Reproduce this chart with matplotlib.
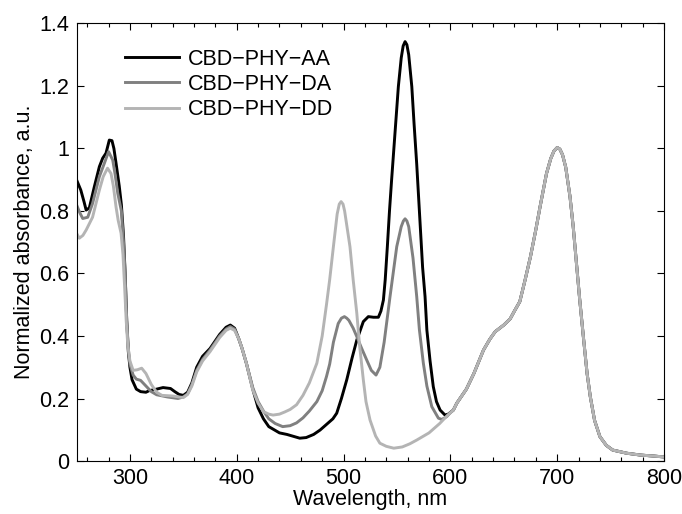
import numpy as np
import matplotlib
matplotlib.use("Agg")
import matplotlib.pyplot as plt
from matplotlib.ticker import MultipleLocator, FuncFormatter

# ---- data (wavelength nm, normalized absorbance) ----
tail = [(602.8,0.163),(606,0.185),(615,0.23),(622,0.28),(631,0.355),(637,0.39),(642,0.414),
        (650,0.435),(656,0.455),(660,0.48),(665,0.51),(670,0.58),(675,0.654),(680,0.74),
        (684,0.814),(690,0.92),(694,0.968),(697,0.992),(700,1.003),(702.5,0.998),(705,0.98),
        (708,0.94),(712,0.846),(715,0.75),(718,0.633),(721,0.52),(724.5,0.398),(728,0.28),
        (731,0.206),(735,0.13),(740,0.078),(746,0.05),(752,0.035),(765,0.025),(778,0.019),
        (790,0.016),(800,0.013)]

aa = [(250,0.90),(254,0.867),(257,0.83),(259,0.803),(262,0.81),(266.7,0.878),(271.4,0.942),
      (274.5,0.969),(277.6,0.985),(280.7,1.027),(283.2,1.025),(285,1.0),(287,0.953),(290,0.88),
      (292,0.82),(294,0.72),(295.5,0.60),(297,0.45),(298.5,0.35),(300,0.30),(302,0.26),(306,0.23),
      (310,0.222),(315,0.22),(318,0.225),(325,0.23),(331,0.235),(338,0.232),(342,0.222),(346,0.213),
      (350,0.21),(354,0.22),(358,0.25),(362.5,0.30),(368,0.335),(375,0.36),(380,0.385),(384,0.405),
      (390,0.428),(394,0.435),(398,0.425),(402,0.39),(405,0.36),(409,0.313),(415,0.23),(420,0.17),
      (425,0.135),(430,0.11),(435,0.10),(440,0.09),(447,0.085),(452,0.08),(459,0.073),(465,0.075),
      (472,0.085),(478,0.099),(485,0.12),(490,0.135),(493.6,0.153),(498,0.20),(503,0.26),(508,0.33),
      (512.4,0.387),(518.5,0.446),(523.2,0.462),(528,0.46),(532.6,0.46),(535,0.48),(537.3,0.515),
      (539,0.58),(541,0.686),(543,0.80),(545,0.90),(548,1.04),(551.3,1.198),(554,1.29),
      (555.8,1.328),(557.6,1.342),(559.3,1.332),(561,1.30),(563.9,1.198),(566,1.08),(568.5,0.95),
      (571,0.80),(574,0.62),(576.3,0.526),(578,0.419),(581,0.32),(584,0.238),(587,0.19),
      (590.4,0.163),(595,0.147),(598,0.15)]

da = [(250,0.82),(253,0.795),(255.8,0.776),(260.5,0.78),(265,0.824),(271.4,0.91),(276,0.952),
      (280,0.99),(283.9,0.963),(286,0.92),(288.6,0.857),(292,0.80),(294,0.70),(295.5,0.60),
      (297,0.45),(298.5,0.36),(300,0.31),(303,0.275),(306,0.262),(310,0.258),(315,0.24),(320,0.222),
      (325,0.212),(335,0.205),(345,0.20),(350,0.205),(354,0.215),(358,0.245),(362.5,0.29),
      (368,0.325),(375,0.355),(380,0.38),(384,0.40),(390,0.422),(394,0.43),(398,0.422),(402,0.39),
      (405,0.36),(409,0.313),(415,0.235),(420,0.19),(425,0.16),(430,0.135),(436,0.12),(443,0.11),
      (450,0.113),(456,0.122),(462,0.138),(468,0.16),(475,0.19),(480,0.225),(484,0.27),(487,0.31),
      (490.5,0.38),(495,0.44),(498,0.457),(500.8,0.462),(503,0.457),(505,0.45),(509,0.425),
      (512.4,0.398),(517,0.36),(521.7,0.323),(526,0.29),(530.4,0.275),(534,0.30),(538,0.38),
      (543.5,0.526),(549.8,0.686),(554,0.75),(556,0.768),(557.6,0.775),(559.3,0.768),(561,0.75),
      (565,0.65),(568.5,0.526),(571,0.42),(574.7,0.313),(578,0.24),(582.6,0.174),(588.8,0.137),
      (592,0.133),(596.6,0.142),(600,0.155)]

dd = [(250,0.729),(252.6,0.713),(256,0.722),(259,0.739),(265,0.78),(271.4,0.867),(275,0.91),
      (279,0.937),(282.3,0.92),(284.5,0.88),(287,0.813),(289,0.77),(291.7,0.729),(293.5,0.66),
      (295,0.56),(296.5,0.45),(298,0.37),(300,0.32),(303,0.29),(307,0.292),(311,0.297),(315,0.28),
      (320,0.245),(325,0.22),(330,0.21),(340,0.208),(350,0.203),(354,0.213),(358,0.24),
      (362.5,0.285),(368,0.32),(375,0.35),(380,0.375),(384,0.395),(390,0.418),(394,0.425),
      (398,0.418),(402,0.39),(405,0.36),(409,0.313),(415,0.227),(420,0.185),(425,0.158),(430,0.15),
      (434,0.147),(440,0.15),(445,0.157),(450,0.165),(456,0.18),(462,0.21),(468,0.25),(475,0.313),
      (480,0.40),(484,0.50),(487,0.58),(490.5,0.686),(494,0.79),(496,0.822),(497.7,0.83),
      (499.5,0.822),(501,0.80),(506,0.686),(509,0.58),(512.4,0.473),(515,0.37),(518.5,0.26),
      (521,0.19),(524.8,0.131),(530,0.08),(534,0.057),(540,0.047),(547,0.041),(555,0.045),
      (562,0.055),(568.5,0.067),(580,0.09),(590,0.12),(597,0.145)]

labels = ["CBD\u2212PHY\u2212AA", "CBD\u2212PHY\u2212DA", "CBD\u2212PHY\u2212DD"]
colors = ["#000000", "#808080", "#b4b4b4"]
xticks = [300, 400, 500, 600, 700, 800]
yticks = [0, 0.2, 0.4, 0.6, 0.8, 1.0, 1.2, 1.4]

plt.rcParams['font.family'] = ['Liberation Sans', 'DejaVu Sans']
fs = 15.5

fig = plt.figure(figsize=(6.82, 5.14), dpi=100)
ax = fig.add_axes([0.1122, 0.1031, 0.8614, 0.8512])

for ser, lab, col in zip([aa, da, dd], labels, colors):
    arr = np.array(ser + tail)
    ax.plot(arr[:, 0], arr[:, 1], color=col, lw=2.1, label=lab,
            solid_joinstyle='round')

ax.set_xlim(250, 800)
ax.set_ylim(0, 1.4)
ax.set_xticks(xticks)
ax.set_yticks(yticks)
ax.xaxis.set_minor_locator(MultipleLocator(20))
ax.yaxis.set_major_formatter(FuncFormatter(lambda v, p: "%g" % v))
ax.tick_params(which='both', direction='in', top=True, right=True, labelsize=fs, width=0.8)
ax.tick_params(which='major', length=5, pad=5)
ax.tick_params(which='minor', length=3)
for s in ax.spines.values():
    s.set_linewidth(0.8)

ax.set_xlabel("Wavelength, nm", fontsize=fs, labelpad=0)
ax.set_ylabel("Normalized absorbance, a.u.", fontsize=fs, labelpad=3)

ax.legend(loc='upper left', bbox_to_anchor=(0.068, 0.962), frameon=False, fontsize=fs,
          handlelength=2.5, handletextpad=0.4, labelspacing=0.2, borderaxespad=0)

fig.savefig("out.png", dpi=100)
